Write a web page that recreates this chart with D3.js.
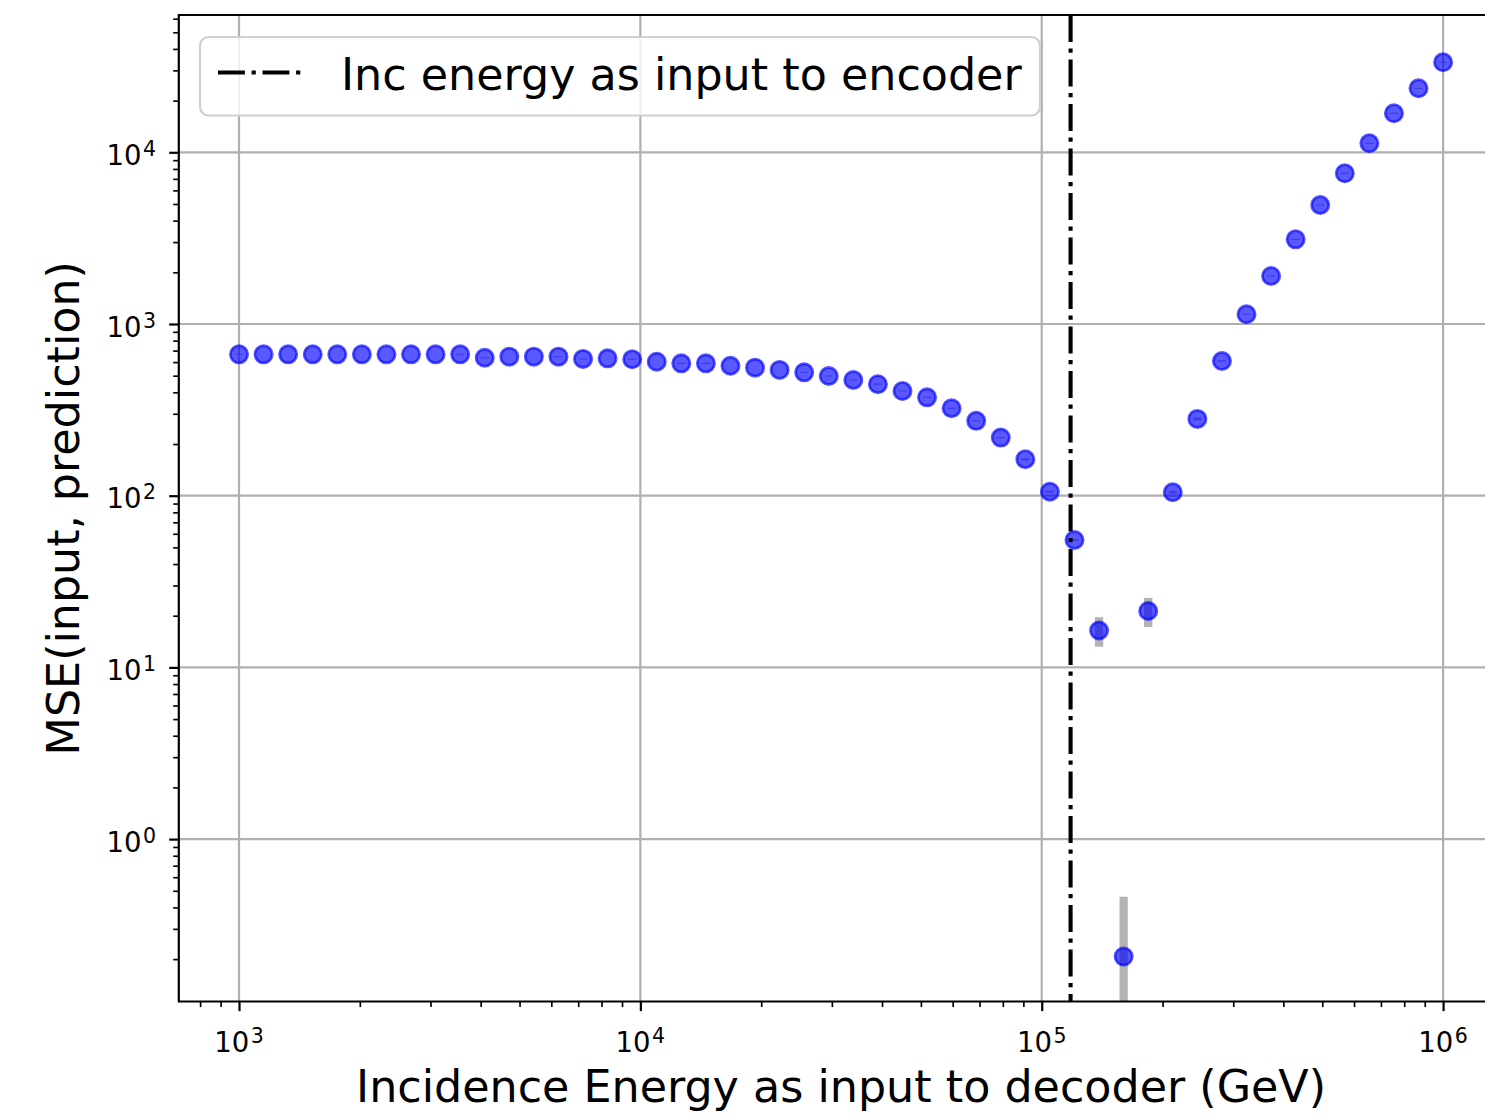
<!DOCTYPE html>
<html>
<head>
<meta charset="utf-8">
<script src="https://cdn.jsdelivr.net/npm/d3@7"></script>
<style>
  html, body { margin: 0; padding: 0; background: #fff; }
  svg { display: block; font-family: "DejaVu Sans", sans-serif; }
</style>
</head>
<body>
<svg id="chart" width="1485" height="1119"></svg>
<script>
// incidence energies fed to the decoder (GeV)
const energies = [
  1000, 1151.4, 1325.7, 1526.4, 1757.5, 2023.6, 2329.9, 2682.7, 3088.8, 3556.5,
  4094.9, 4714.9, 5428.7, 6250.6, 7196.9, 8286.4, 9540.9, 10985, 12649, 14564,
  16768, 19307, 22230, 25596, 29471, 33932, 39069, 44984, 51795, 59636,
  68665, 79060, 91030, 104811, 120679, 138950, 159986, 184207, 212095, 244205,
  281177, 323746, 372759, 429193, 494171, 568987, 655129, 754312, 868511, 1000000
];
// MSE(input, prediction) for each energy
const mse = [
  666, 666, 666, 666, 666, 666, 666, 666, 666, 666,
  636, 645, 645, 645, 626, 631, 623, 603, 590, 590,
  571, 557, 540, 523, 498, 472, 446, 407, 374, 323,
  273, 218, 163, 105.5, 55.2, 16.4, 0.207, 21.3, 104.7, 280,
  609, 1139, 1904, 3113, 4932, 7545, 11283, 16871, 23592, 33435
];
// error on the MSE
const mseErr = [
  5, 0, 0, 0, 0, 0, 0, 0, 0, 5,
  5, 0, 0, 5, 5, 0, 5, 0, 5, 5,
  0, 0, 0, 4, 4, 4, 4, 3, 3, 3,
  2.5, 2, 2.5, 1.5, 0.8, 3.2, 0.255, 4.1, 2, 6,
  6, 10, 15, 25, 40, 60, 90, 135, 190, 270
];
const encoderEnergy = 118000;
const legendLabel = "Inc energy as input to encoder";
const xLabel = "Incidence Energy as input to decoder (GeV)";
const yLabel = "MSE(input, prediction)";
const xMajor = [1e3, 1e4, 1e5, 1e6];
const yMajor = [1e0, 1e1, 1e2, 1e3, 1e4];

const plot = {left: 178.8, right: 1503.3, top: 15, bottom: 1001.5};
const svg = d3.select('#chart');

const x = d3.scaleLog()
  .domain([10 ** 2.85, 10 ** 6.15])
  .range([plot.left, plot.right]);
const y = d3.scaleLog()
  .domain([10 ** -0.9458, 10 ** 4.7996])
  .range([plot.bottom, plot.top]);

// minor ticks 2..9 per decade inside the domain
function minors(scale) {
  const [a, b] = scale.domain();
  const out = [];
  for (let e = Math.floor(Math.log10(a)); e <= Math.ceil(Math.log10(b)); e++) {
    for (let m = 2; m <= 9; m++) {
      const v = m * 10 ** e;
      if (v >= a && v <= b) out.push(v);
    }
  }
  return out;
}

svg.append('defs').append('clipPath').attr('id', 'clip')
  .append('rect')
  .attr('x', plot.left).attr('y', plot.top)
  .attr('width', plot.right - plot.left).attr('height', plot.bottom - plot.top);

// grid
const grid = svg.append('g').attr('stroke', '#b0b0b0').attr('stroke-width', 2.2);
grid.selectAll('.gx').data(xMajor).enter().append('line')
  .attr('x1', d => x(d)).attr('x2', d => x(d))
  .attr('y1', plot.top).attr('y2', plot.bottom);
grid.selectAll('.gy').data(yMajor).enter().append('line')
  .attr('x1', plot.left).attr('x2', plot.right)
  .attr('y1', d => y(d)).attr('y2', d => y(d));

// axes ticks
function styleAxis(g, width) {
  g.select('.domain').remove();
  g.selectAll('.tick line').attr('stroke', '#000').attr('stroke-width', width);
  g.selectAll('.tick text').remove();
}
svg.append('g').attr('transform', `translate(0,${plot.bottom})`)
  .call(d3.axisBottom(x).tickValues(xMajor).tickSize(9.6)).call(g => styleAxis(g, 2.2));
svg.append('g').attr('transform', `translate(0,${plot.bottom})`)
  .call(d3.axisBottom(x).tickValues(minors(x)).tickSize(5.6)).call(g => styleAxis(g, 1.65));
svg.append('g').attr('transform', `translate(${plot.left},0)`)
  .call(d3.axisLeft(y).tickValues(yMajor).tickSize(9.6)).call(g => styleAxis(g, 2.2));
svg.append('g').attr('transform', `translate(${plot.left},0)`)
  .call(d3.axisLeft(y).tickValues(minors(y)).tickSize(5.6)).call(g => styleAxis(g, 1.65));

// tick labels 10^n
function powLabel(sel) {
  sel.append('tspan').text('10');
  sel.append('tspan').attr('dx', 1.5).attr('dy', -9).attr('font-size', 20.5)
    .text(d => Math.round(Math.log10(d)));
}
svg.append('g').selectAll('text').data(xMajor).enter().append('text')
  .attr('x', d => x(d)).attr('y', plot.bottom + 50.2)
  .attr('text-anchor', 'middle').attr('font-size', 27.5).attr('fill', '#000')
  .call(powLabel);
svg.append('g').selectAll('text').data(yMajor).enter().append('text')
  .attr('x', 156).attr('y', d => y(d) + 12.8)
  .attr('text-anchor', 'end').attr('font-size', 27.5).attr('fill', '#000')
  .call(powLabel);

// data
const pts = energies.map((e, i) => ({e, v: mse[i], err: mseErr[i]}));
const data = svg.append('g').attr('clip-path', 'url(#clip)');
const yMin = y.domain()[0];
data.selectAll('.err').data(pts.filter(d => d.err > 0)).enter().append('line')
  .attr('x1', d => x(d.e)).attr('x2', d => x(d.e))
  .attr('y1', d => y(Math.max(d.v - d.err, yMin * 0.5)))
  .attr('y2', d => y(d.v + d.err))
  .attr('stroke', '#808080').attr('stroke-opacity', 0.6).attr('stroke-width', 8.3);

// vertical encoder energy line
svg.append('line')
  .attr('x1', x(encoderEnergy)).attr('x2', x(encoderEnergy))
  .attr('y1', plot.top).attr('y2', plot.bottom)
  .attr('stroke', '#000').attr('stroke-width', 4.1)
  .attr('stroke-dasharray', '26.9,6.7,4.2,6.7');

data.selectAll('.pt').data(pts).enter().append('circle')
  .attr('cx', d => x(d.e)).attr('cy', d => y(d.v)).attr('r', 8.6)
  .attr('fill', '#0000ff').attr('fill-opacity', 0.65)
  .attr('stroke', '#0000ff').attr('stroke-opacity', 0.65).attr('stroke-width', 2.8);

// spines
const spines = svg.append('g').attr('stroke', '#000').attr('stroke-width', 2.2).attr('fill', 'none');
spines.append('path')
  .attr('d', `M${plot.right},${plot.top}H${plot.left}V${plot.bottom}H${plot.right}V${plot.top}`);

// legend
const legend = svg.append('g');
legend.append('rect')
  .attr('x', 200).attr('y', 37).attr('width', 840).attr('height', 78.5)
  .attr('rx', 8.8).attr('fill', '#fff').attr('fill-opacity', 0.8)
  .attr('stroke', '#d0d0d0').attr('stroke-width', 2.2);
legend.append('line')
  .attr('x1', 218).attr('x2', 306).attr('y1', 72.5).attr('y2', 72.5)
  .attr('stroke', '#000').attr('stroke-width', 4.1)
  .attr('stroke-dasharray', '26.9,6.7,4.2,6.7');
legend.append('text')
  .attr('x', 341).attr('y', 89.5).attr('font-size', 44.4).attr('fill', '#000')
  .text(legendLabel);

// axis labels
svg.append('text')
  .attr('x', (plot.left + plot.right) / 2).attr('y', 1102)
  .attr('text-anchor', 'middle').attr('font-size', 44.4).attr('fill', '#000')
  .text(xLabel);
svg.append('text')
  .attr('transform', `translate(79,${(plot.top + plot.bottom) / 2}) rotate(-90)`)
  .attr('text-anchor', 'middle').attr('font-size', 44.4).attr('fill', '#000')
  .text(yLabel);
</script>
</body>
</html>
